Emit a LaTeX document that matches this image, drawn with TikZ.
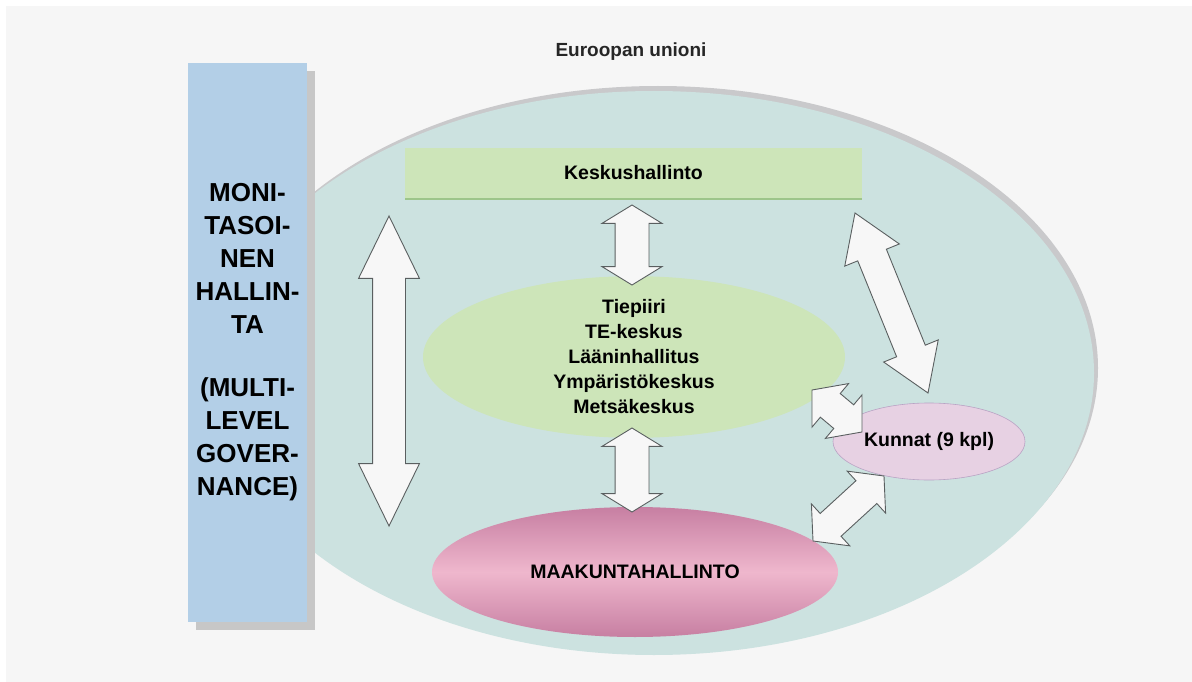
\documentclass[tikz,border=0pt]{standalone}
\usepackage{fontspec}
\setmainfont{Liberation Sans}
\usetikzlibrary{shapes.geometric,shapes.arrows,shadows,calc}

\definecolor{bggray}{HTML}{F6F6F6}
\definecolor{euteal}{HTML}{CCE2E0}
\definecolor{euring}{HTML}{C9C9CB}
\definecolor{govblue}{HTML}{B3CFE7}
\definecolor{stategreen}{HTML}{CDE5B9}
\definecolor{stateedge}{HTML}{9DC58A}
\definecolor{regpinkdark}{HTML}{C77FA2}
\definecolor{regpinklight}{HTML}{EFB7CD}
\definecolor{kuntapink}{HTML}{E7D1E3}
\definecolor{kuntaedge}{HTML}{B9A3C4}
\definecolor{arrowedge}{HTML}{5A5F60}

\newcommand{\twoway}[3][]{%
  \path let \p1=($(#3)-(#2)$), \n1={veclen(\x1,\y1)}, \n2={atan2(\y1,\x1)}
    in node[twoarrow, minimum height=\n1, rotate=\n2, #1] at ($(#2)!0.5!(#3)$) {};
}

\begin{document}
\begin{tikzpicture}[
    x=1pt, y=-1pt,
    govbox/.style={rectangle, fill=govblue, minimum width=115pt, minimum height=559pt, text width=112pt, align=center,
      drop shadow={shadow xshift=8pt, shadow yshift=-8pt, fill=black!22, opacity=1},
      font=\fontsize{26}{33}\selectfont\bfseries},
    levelbox/.style={rectangle, fill=stategreen, minimum width=457pt, minimum height=50pt,
      font=\fontsize{19.5}{25}\selectfont\bfseries},
    levelblob/.style={ellipse, inner sep=0pt, align=center, font=\fontsize{19.5}{25}\selectfont\bfseries},
    twoarrow/.style={double arrow, draw=arrowedge, line width=0.9pt, fill=white!97!black, inner sep=16pt,
      double arrow head extend=14pt, double arrow tip angle=60}
]
    \useasboundingbox (0,0) rectangle (1192,682);
    \fill[white] (0,0) rectangle (1192,682);
    \fill[bggray] (6,6) rectangle (1192,682);

    \node[ellipse, fill=euring, minimum width=880pt, minimum height=564pt] (euring) at (658,368) {};
    \node[ellipse, fill=euteal, minimum width=880pt, minimum height=564pt] (eu) at (654,373) {};
    \node[font=\fontsize{19}{23}\selectfont\bfseries, text=black!85] (eutitle) at (631,52) {Euroopan unioni};

    \node[govbox] (mlg) at (247.5,342.5) {MONI-\\TASOI-\\NEN\\HALLIN-\\TA\\[30pt](MULTI-\\LEVEL\\GOVER-\\NANCE)};

    \fill[stateedge] (405,150) rectangle (862,200);
    \node[levelbox] (kesk) at (633.5,173) {Keskushallinto};
    \node[levelblob, fill=stategreen, minimum width=422pt, minimum height=142pt] (alue) at (634,357)
        {Tiepiiri\\TE-keskus\\Lääninhallitus\\Ympäristökeskus\\Metsäkeskus};
    \node[levelblob, top color=regpinkdark, bottom color=regpinkdark, middle color=regpinklight,
        minimum width=406pt, minimum height=130pt] (maak) at (635,572) {MAAKUNTAHALLINTO};
    \node[levelblob, fill=kuntapink, draw=kuntaedge, line width=0.6pt,
        minimum width=192pt, minimum height=77pt] (kunnat) at (929,441.5) {Kunnat (9 kpl)};

    \coordinate (lt) at (389,216);
    \coordinate (lb) at (389,526);
    \coordinate (ka) at (632,205);
    \coordinate (kb) at (632,285);
    \coordinate (ma) at (632,428);
    \coordinate (mb) at (632,512);
    \coordinate (dt) at (855,213);
    \coordinate (db) at (928,393);
    \coordinate (ua) at (812,390);
    \coordinate (ub) at (862,432);
    \coordinate (va) at (813,541);
    \coordinate (vb) at (884,476);

    \twoway[name=arrlevel, double arrow tip angle=52]{lt}{lb}
    \twoway[name=arrkesk, inner sep=16.5pt, double arrow head extend=13pt, double arrow tip angle=117]{ka}{kb}
    \twoway[name=arrmaak, inner sep=16.5pt, double arrow head extend=13pt, double arrow tip angle=117]{ma}{mb}
    \twoway[name=arrdiag, inner sep=15pt, double arrow tip angle=66]{dt}{db}
    \twoway[name=arralue, inner sep=15pt, double arrow head extend=13pt, double arrow tip angle=100]{ua}{ub}
    \twoway[name=arrkunta, inner sep=15pt, double arrow head extend=13pt, double arrow tip angle=100]{va}{vb}
\end{tikzpicture}
\end{document}
